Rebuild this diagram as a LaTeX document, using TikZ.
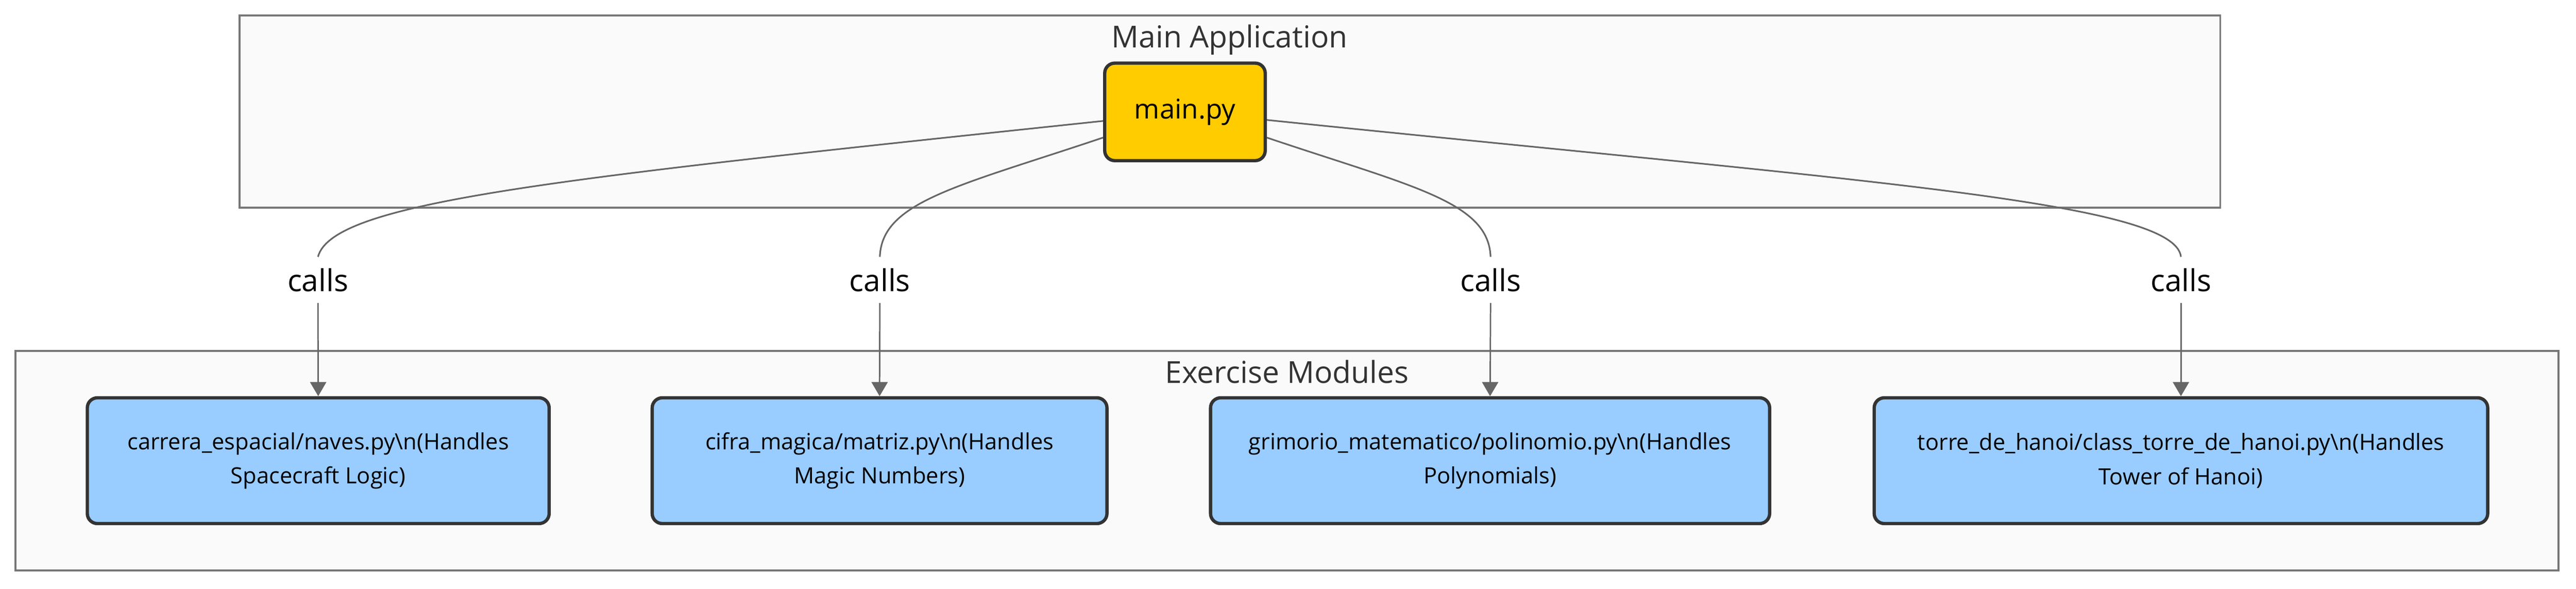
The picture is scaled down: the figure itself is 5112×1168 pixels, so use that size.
\documentclass[tikz,border=0pt]{standalone}
\usepackage{fontspec}
\setmainfont{Open Sans}
\usetikzlibrary{arrows.meta}
\definecolor{edgegray}{HTML}{666666}
\definecolor{clusterstroke}{HTML}{777777}
\definecolor{clusterfill}{HTML}{FAFAFA}
\definecolor{titlegray}{HTML}{333333}
\definecolor{nodeborder}{HTML}{333333}
\definecolor{mainfill}{HTML}{FFCC00}
\definecolor{modfill}{HTML}{99CCFF}
\begin{document}
\begin{tikzpicture}[x=0.5pt,y=-0.5pt,
  cluster/.style={draw=clusterstroke, fill=clusterfill, line width=2pt},
  clustertitle/.style={text=titlegray, font=\fontsize{30pt}{36pt}\selectfont, inner sep=0pt},
  mainbox/.style={draw=nodeborder, fill=mainfill, line width=3.25pt, rounded corners=10pt,
    minimum width=159.25pt, minimum height=96.75pt, inner sep=0pt,
    font=\fontsize{27pt}{32pt}\selectfont},
  modbox/.style={draw=nodeborder, fill=modfill, line width=3.25pt, rounded corners=10pt,
    minimum height=124.75pt, inner sep=0pt, align=center,
    font=\fontsize{22.2pt}{34pt}\selectfont},
  calllabel/.style={inner sep=0pt, minimum height=45.5pt, font=\fontsize{30pt}{36pt}\selectfont},
  edgeline/.style={draw=edgegray, line width=1.6pt},
  arrowline/.style={draw=edgegray, line width=1.4pt, -{Triangle[length=14pt,width=16pt]}}
]
\useasboundingbox (0,0) rectangle (5112,1168);
\fill[white] (0,0) rectangle (5112,1168);
% clusters
\draw[cluster] (475,31) rectangle (4406,412);
\node[clustertitle, anchor=base] (maintitle) at (2440,95) {Main Application};
\draw[cluster] (31,696) rectangle (5077,1132);
\node[clustertitle, anchor=base] (extitle) at (2554,760) {Exercise Modules};
% nodes
\node[mainbox] (main) at (2351.5,222) {main.py};
\node[modbox, minimum width=458.25pt] (n1) at (631.5,914)
  {carrera\_espacial/naves.py\textbackslash n(Handles\\Spacecraft Logic)};
\node[modbox, minimum width=451.25pt] (n2) at (1745.5,914)
  {cifra\_magica/matriz.py\textbackslash n(Handles\\Magic Numbers)};
\node[modbox, minimum width=554.75pt] (n3) at (2957,914)
  {grimorio\_matematico/polinomio.py\textbackslash n(Handles\\Polynomials)};
\node[modbox, minimum width=608.75pt] (n4) at (4328,914)
  {torre\_de\_hanoi/class\_torre\_de\_hanoi.py\textbackslash n(Handles\\Tower of Hanoi)};
% edge labels
\node[calllabel] (l1) at (631,555.5) {calls};
\node[calllabel] (l2) at (1746,555.5) {calls};
\node[calllabel] (l3) at (2958,555.5) {calls};
\node[calllabel] (l4) at (4328,555.5) {calls};
% edge start points on main.py
\path (main.west) ++(0,18) coordinate (s1);
\path (main.west) ++(0,51) coordinate (s2);
\path (main.east) ++(0,51) coordinate (s3);
\path (main.east) ++(0,16) coordinate (s4);
% curves
\draw[edgeline] (s1) .. controls (1100,355) and (660,400) .. (l1.north);
\draw[edgeline] (s2) .. controls (1900,370) and (1750,400) .. (l2.north);
\draw[edgeline] (s3) .. controls (2802,370) and (2954,400) .. (l3.north);
\draw[edgeline] (s4) .. controls (3700,360) and (4316,400) .. (l4.north);
% arrows
\draw[arrowline] (l1.south) -- (n1.north);
\draw[arrowline] (l2.south) -- (n2.north);
\draw[arrowline] (l3.south) -- (n3.north);
\draw[arrowline] (l4.south) -- (n4.north);
\end{tikzpicture}
\end{document}
